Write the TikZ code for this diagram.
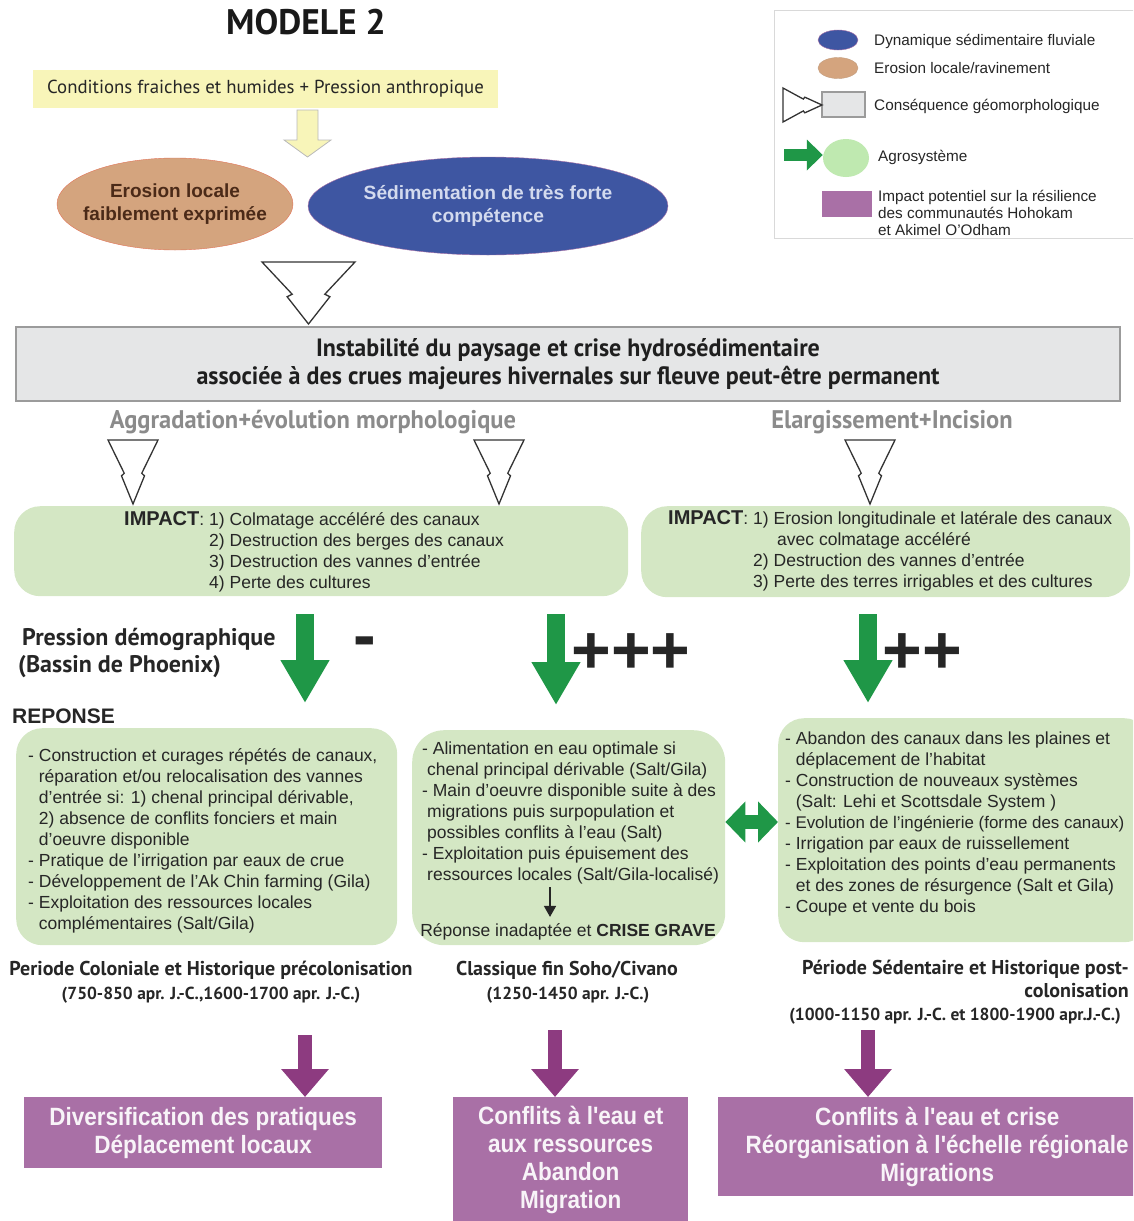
\documentclass[tikz,border=0pt]{standalone}
\usepackage{fontspec}
\setmainfont{Liberation Sans}
\newfontfamily\myriad{PT Sans}
\newfontfamily\myriadcond[FakeStretch=0.96]{PT Sans}
\newfontfamily\narrowsans[FakeStretch=0.9]{Liberation Sans}
\usetikzlibrary{arrows.meta,positioning,shapes.geometric,calc}
\definecolor{Jaune}{HTML}{F8F5B9}
\definecolor{Ocre}{HTML}{D4A47E}
\definecolor{OcreText}{HTML}{4B2A18}
\definecolor{Bleu}{HTML}{3E56A2}
\definecolor{BleuText}{HTML}{D3DAEE}
\definecolor{Gris}{HTML}{E5E6E7}
\definecolor{GrisBord}{HTML}{9B9B9B}
\definecolor{GrisText}{HTML}{8B8B8B}
\definecolor{VertClair}{HTML}{D4E7C4}
\definecolor{Vert}{HTML}{1F9747}
\definecolor{Violet}{HTML}{A970A6}
\definecolor{VioletFonce}{HTML}{8D3B80}
\definecolor{Texte}{HTML}{262626}
\tikzset{
  greenbox/.style={rounded corners=26pt, fill=VertClair, anchor=north west, inner sep=0},
  purplebox/.style={fill=Violet, text=white!92!Violet, align=center, inner sep=0, font=\narrowsans\bfseries\fontsize{25}{28}\selectfont},
  txt/.style={anchor=north west, inner sep=0, text=Texte, font=\fontsize{17.5}{21}\selectfont},
  legtxt/.style={anchor=west, inner sep=0, text=Texte, font=\fontsize{15.3}{17}\selectfont},
  period/.style={anchor=base, inner sep=0, text=Texte, font=\myriad\bfseries\fontsize{20}{23}\selectfont},
  dates/.style={anchor=base, inner sep=0, text=Texte, font=\myriad\bfseries\fontsize{17.4}{19}\selectfont},
  sign/.style={inner sep=0, text=black!85, font=\bfseries\fontsize{68}{68}\selectfont},
  greenarr/.style={line width=18pt, draw=Vert, -{Triangle[length=43pt,width=46pt]}},
  purplearr/.style={line width=14pt, draw=VioletFonce, -{Triangle[length=28pt,width=46pt]}},
  smallarr/.style={line width=1.6pt, draw=black!85, -{Triangle[length=11pt,width=12pt]}},
  boltline/.style={draw=black!80, line width=1.3pt, fill=white, line join=miter},
  pics/bolt/.style 2 args={code={
    \draw[boltline] (-#1,0) -- (-0.35*#1,0.52*#2) -- (-0.46*#1,0.56*#2) -- (0,#2)
      -- (0.46*#1,0.56*#2) -- (0.35*#1,0.52*#2) -- (#1,0) -- cycle;
  }}
}

\begin{document}
\begin{tikzpicture}[x=1pt,y=-1pt]
\useasboundingbox (0,0) rectangle (1133,1221);
\clip (0,0) rectangle (1133,1221);

% titre et conditions de depart
\node[font=\myriad\bfseries\fontsize{35.5}{38}\selectfont, text=black!90] (titre) at (306,22) {MODELE 2};
\node[fill=Jaune, minimum width=465pt, minimum height=38pt, inner sep=0, text=Texte,
  font=\myriad\fontsize{18.8}{20}\selectfont] (cond) at (265.5,89) {Conditions fraiches et humides + Pression anthropique};
\draw[fill=Jaune, draw=gray!55, line width=0.8pt] (297,110) -- (318,110) -- (318,140) -- (331,140)
  -- (307.5,157) -- (284,140) -- (297,140) -- cycle;

% ellipses
\node[ellipse, fill=Ocre, draw=Ocre!70!red, minimum width=236pt, minimum height=92pt, inner sep=0] (erosion) at (175,204) {};
\node[align=center, inner sep=0, text=OcreText, font=\bfseries\fontsize{19}{23}\selectfont] (erosiontxt) at (erosion.center)
  {Erosion locale\\faiblement exprimée};
\node[ellipse, fill=Bleu, draw=Violet, minimum width=360pt, minimum height=98pt, inner sep=0] (sedim) at (488,206) {};
\node[align=center, inner sep=0, text=BleuText, font=\bfseries\fontsize{19.2}{23}\selectfont] (sedimtxt) at (sedim.center)
  {Sédimentation de très forte\\compétence};
\pic at (308.5,262) {bolt={46.5}{62}};

% crise
\node[draw=GrisBord, line width=2pt, fill=Gris, minimum width=1104pt, minimum height=74pt, align=center,
  text=black!88, font=\myriadcond\bfseries\fontsize{25}{28}\selectfont] (crise) at (568,364)
  {Instabilité du paysage et crise hydrosédimentaire\\associée à des crues majeures hivernales sur fleuve peut-être permanent};
\node[text=GrisText, font=\myriadcond\bfseries\fontsize{25.5}{26}\selectfont] (aggrad) at (313,422) {Aggradation+évolution morphologique};
\node[text=GrisText, font=\myriadcond\bfseries\fontsize{25.5}{26}\selectfont] (elarg) at (892,422) {Elargissement+Incision};
\foreach \x in {133,499,870}
  \pic at (\x,440) {bolt={25}{64}};

% impacts
\node[greenbox, minimum width=614pt, minimum height=90pt] (imp1) at (14,506) {};
\node[greenbox, minimum width=489pt, minimum height=91pt] (imp2) at (641,506) {};
\node[txt] (imptext1) at (124,511) {\begin{tabular}{@{}l@{\hspace{5pt}}l@{}}
  {\bfseries\fontsize{20}{21}\selectfont IMPACT}: & 1) Colmatage accéléré des canaux\\
  & 2) Destruction des berges des canaux\\
  & 3) Destruction des vannes d'entrée\\
  & 4) Perte des cultures
  \end{tabular}};
\node[txt] (imptext2) at (668,510) {\begin{tabular}{@{}l@{\hspace{5pt}}l@{}}
  {\bfseries\fontsize{20}{21}\selectfont IMPACT}: & 1) Erosion longitudinale et latérale des canaux\\
  & \hspace{24pt}avec colmatage accéléré\\
  & 2) Destruction des vannes d'entrée\\
  & 3) Perte des terres irrigables et des cultures
  \end{tabular}};

% pression demographique
\node[anchor=north west, inner sep=0, text=Texte, font=\myriad\bfseries\fontsize{24}{27}\selectfont] (pression) at (22,626)
  {\begin{tabular}{@{}l@{}}Pression démographique\\\hspace{-4pt}(Bassin de Phoenix)\end{tabular}};
\node[sign] (moins) at (365,648) {-};
\node[sign] (plus3) at (631,654) {+++};
\node[sign] (plus2) at (922,654) {++};
\draw[greenarr] (305,614) -- (305,703);
\draw[greenarr] (556,614) -- (556,705);
\draw[greenarr] (868,614) -- (868,703);
\node[anchor=base west, inner sep=0, text=Texte, font=\bfseries\fontsize{21}{24}\selectfont] (reponse) at (12,723) {REPONSE};

% reponses
\node[greenbox, minimum width=381pt, minimum height=217pt] (rep1) at (16,728) {};
\node[greenbox, minimum width=313pt, minimum height=215pt, rounded corners=32pt] (rep2) at (412,730) {};
\node[greenbox, minimum width=372pt, minimum height=224pt] (rep3) at (778,718) {};
\node[txt] (reptext1) at (28,747) {\begin{tabular}{@{}l@{}}
  - Construction et curages répétés de canaux,\\
  \phantom{- }réparation et/ou relocalisation des vannes\\
  \phantom{- }d'entrée si: 1) chenal principal dérivable,\\
  \phantom{- }2) absence de conflits fonciers et main\\
  \phantom{- }d'oeuvre disponible\\
  - Pratique de l'irrigation par eaux de crue\\
  - Développement de l'Ak Chin farming (Gila)\\
  - Exploitation des ressources locales\\
  \phantom{- }complémentaires (Salt/Gila)
  \end{tabular}};
\node[txt] (reptext2) at (422,740) {\begin{tabular}{@{}l@{}}
  - Alimentation en eau optimale si\\
  \hspace{5pt}chenal principal dérivable (Salt/Gila)\\
  - Main d'oeuvre disponible suite à des\\
  \hspace{5pt}migrations puis surpopulation et\\
  \hspace{5pt}possibles conflits à l'eau (Salt)\\
  - Exploitation puis épuisement des\\
  \hspace{5pt}ressources locales (Salt/Gila-localisé)
  \end{tabular}};
\node[anchor=base, inner sep=0, text=Texte, font=\fontsize{17.5}{21}\selectfont] (grave) at (568,936)
  {Réponse inadaptée et \textbf{CRISE GRAVE}};
\draw[smallarr] ([xshift=-18pt]grave.north |- reptext2.south) -- ([xshift=-18pt,yshift=6pt]grave.north);
\node[txt] (reptext3) at (785,730) {\begin{tabular}{@{}l@{}}
  - Abandon des canaux dans les plaines et\\
  \phantom{- }déplacement de l'habitat\\
  - Construction de nouveaux systèmes\\
  \phantom{- }(Salt: Lehi et Scottsdale System )\\
  {\fontsize{16.9}{21}\selectfont - Evolution de l'ingénierie (forme des canaux)}\\
  - Irrigation par eaux de ruissellement\\
  - Exploitation des points d'eau permanents\\
  \phantom{- }et des zones de résurgence (Salt et Gila)\\
  - Coupe et vente du bois
  \end{tabular}};
\draw[line width=14pt, draw=Vert, {Triangle[length=20pt,width=40pt]}-{Triangle[length=20pt,width=40pt]}]
  (rep2.east |- 0,822) -- (rep3.west |- 0,822);

% periodes
\node[period] (per1) at (211,975) {Periode Coloniale et Historique précolonisation};
\node[dates] (per1d) at (211,999) {(750-850 apr. J.-C.,1600-1700 apr. J.-C.)};
\node[period] (per2) at (567,975) {Classique fin Soho/Civano};
\node[dates] (per2d) at (568,999) {(1250-1450 apr. J.-C.)};
\node[period, anchor=north east] (per3) at (1129,958)
  {\begin{tabular}{@{}r@{}}Période Sédentaire et Historique post-\\colonisation\end{tabular}};
\node[dates, anchor=base east] (per3d) at (1121,1020) {(1000-1150 apr. J.-C. et 1800-1900 apr.J.-C.)};

% consequences
\node[purplebox, anchor=north west, minimum width=358pt, minimum height=71pt] (cons1) at (24,1097)
  {Diversification des pratiques\\Déplacement locaux};
\node[purplebox, anchor=north west, minimum width=235pt, minimum height=126pt] (cons2) at (453,1097)
  {Conflits à l'eau et\\aux ressources\\Abandon\\Migration};
\node[purplebox, anchor=north west, minimum width=438pt, minimum height=99pt] (cons3) at (718,1097)
  {Conflits à l'eau et crise\\Réorganisation à l'échelle régionale\\Migrations};
\draw[purplearr] (305,1035) -- (cons1.north -| 305,0);
\draw[purplearr] (555,1030) -- (cons2.north -| 555,0);
\draw[purplearr] (868,1030) -- (cons3.north -| 868,0);

% legende
\node[draw=gray!30, line width=1pt, fill=white, minimum width=370pt, minimum height=228pt, anchor=north west, inner sep=0] (legende) at (774,10) {};
\node[ellipse, fill=Bleu, draw=Violet, minimum width=40pt, minimum height=20pt, inner sep=0] (lbleu) at (838,40) {};
\node[legtxt] (lbleutxt) at (874,41) {Dynamique sédimentaire fluviale};
\node[ellipse, fill=Ocre, draw=Ocre!80!gray, minimum width=40pt, minimum height=21pt, inner sep=0] (locre) at (838,68) {};
\node[legtxt] (locretxt) at (874,68) {Erosion locale/ravinement};
\node[fill=Gris, draw=GrisBord, line width=1.2pt, minimum width=43pt, minimum height=25pt, inner sep=0] (lgris) at (843.5,104.5) {};
\pic[rotate=90] at (783,105) {bolt={17}{39}};
\node[legtxt] (lgristxt) at (874,106) {Conséquence géomorphologique};
\node[ellipse, fill=VertClair!90!green, minimum width=46pt, minimum height=38pt, inner sep=0] (lvert) at (846,158) {};
\draw[line width=12pt, draw=Vert, -{Triangle[length=16pt,width=30pt]}] (784,155) -- (lvert.west |- 0,155);
\node[legtxt] (lverttxt) at (878,157) {Agrosystème};
\node[fill=Violet, minimum width=50pt, minimum height=26pt, inner sep=0] (lviolet) at (847,204) {};
\node[legtxt, anchor=north west] (lviolettxt) at (878,189) {\begin{tabular}{@{}l@{}}
  Impact potentiel sur la résilience\\des communautés Hohokam\\et Akimel O'Odham\end{tabular}};
\end{tikzpicture}
\end{document}
